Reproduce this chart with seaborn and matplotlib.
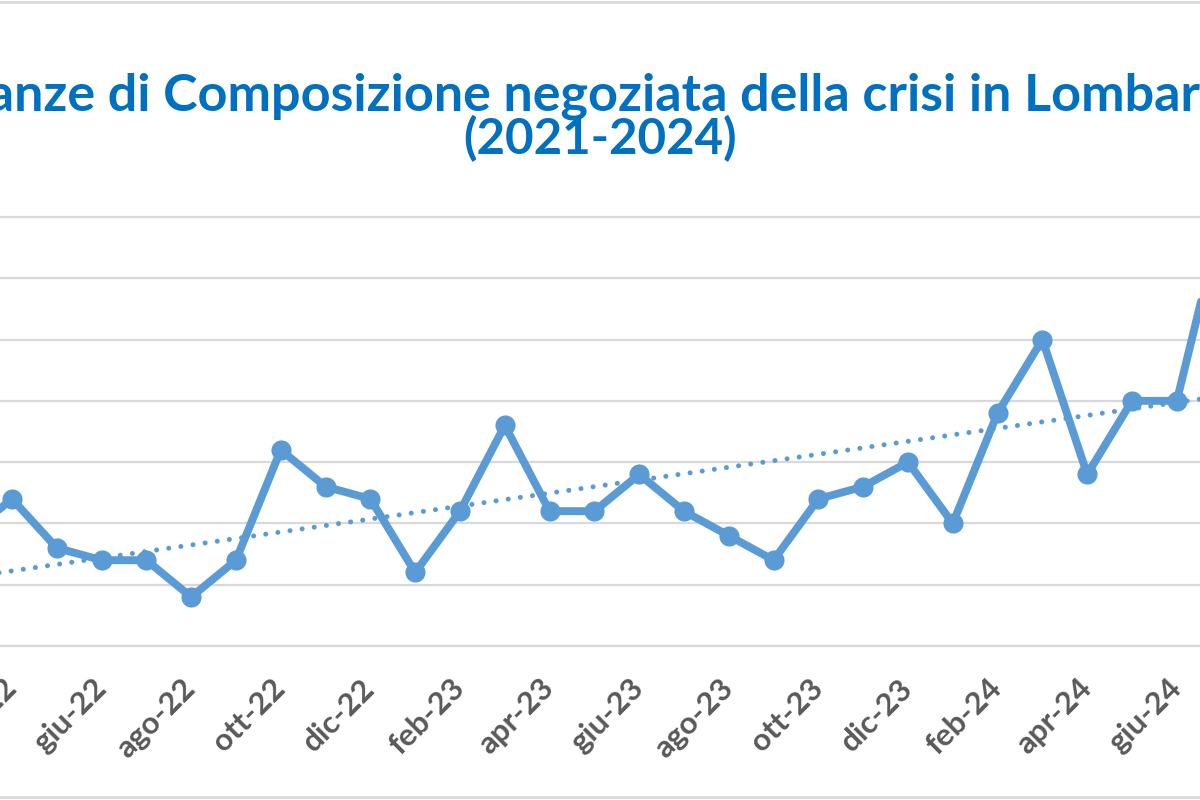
import pandas as pd
import seaborn as sns
import matplotlib.pyplot as plt
from matplotlib.lines import Line2D

# axis categories (monthly); the picture is a crop of a wider chart
months = ["mar-22", "apr-22", "mag-22", "giu-22", "lug-22", "ago-22", "set-22",
          "ott-22", "nov-22", "dic-22", "gen-23", "feb-23", "mar-23", "apr-23",
          "mag-23", "giu-23", "lug-23", "ago-23", "set-23", "ott-23", "nov-23",
          "dic-23", "gen-24", "feb-24", "mar-24", "apr-24", "mag-24", "giu-24",
          "lug-24", "ago-24"]
# number of applications per month (mar-22 .. lug-24)
counts = [9, 12, 8, 7, 7, 4, 7, 16, 13, 12, 6, 11, 18, 11, 11, 14, 11, 9, 7,
          12, 13, 15, 10, 19, 25, 14, 20, 20, 35]
# linear trend read at mar-22 and lug-24
trend_start = 5.6
trend_end = 20.4

BLUE = "#5B9BD5"
GRID = "#D9D9D9"

df = pd.DataFrame({"idx": range(len(counts)), "mese": months[:len(counts)], "istanze": counts})

sns.set_theme(style="white")
plt.rcParams["font.family"] = ["Lato", "DejaVu Sans"]

fig = plt.figure(figsize=(12, 8), dpi=100)

# one month = 44.8 px, one unit = 12.26 px
px_month = 44.8
px_unit = 12.257
y_top = 36
ax = fig.add_axes([0, 154 / 800, 1, y_top * px_unit / 800])

sns.lineplot(data=df, x="idx", y="istanze", ax=ax, color=BLUE, linewidth=5.7,
             marker="o", markersize=14.5, markeredgewidth=0, zorder=3)
ax.plot([0, len(counts) - 1], [trend_start, trend_end], color=BLUE, linewidth=3.6,
        linestyle=(0, (0.01, 2.44)), dash_capstyle="round", zorder=2)

ax.set_yticks(range(0, 36, 5))
ax.tick_params(axis="y", left=False, labelleft=False)
ax.grid(axis="y", color=GRID, linewidth=1.6)
ax.set_axisbelow(True)
for s in ["top", "left", "right"]:
    ax.spines[s].set_visible(False)
ax.spines["bottom"].set_color(GRID)
ax.spines["bottom"].set_linewidth(1.6)

centers = list(range(1, len(months), 2))
ax.set_xticks([c - 0.5 for c in centers])
ax.tick_params(axis="x", which="major", length=8, width=1.6, color=GRID, labelbottom=False)
ax.set_xticks(centers, minor=True)
ax.set_xticklabels([months[c] for c in centers], minor=True, rotation=45, ha="right",
                   va="center", rotation_mode="anchor", fontsize=22.5, fontweight="bold",
                   color="#595959")
ax.tick_params(axis="x", which="minor", length=0, pad=27)
ax.set_xlabel("")
ax.set_ylabel("")

# limits after the ticks, so they are not widened
x0 = 1 - 12 / px_month
ax.set_xlim(x0, x0 + 1200 / px_month)
ax.set_ylim(0, y_top)

fig.text(0.5, 1 - 110 / 800, "Istanze di Composizione negoziata della crisi in Lombardia",
         ha="center", va="baseline", fontsize=37.5, fontweight="bold", color="#0070C0")
fig.text(0.5, 1 - 154 / 800, "(2021-2024)", ha="center", va="baseline",
         fontsize=35.5, fontweight="bold", color="#0070C0")

# chart border (top and bottom edge of the crop)
fig.add_artist(Line2D([0, 1], [0.998, 0.998], transform=fig.transFigure, color=GRID, lw=2))
fig.add_artist(Line2D([0, 1], [0.004, 0.004], transform=fig.transFigure, color=GRID, lw=2))

fig.savefig("out.png", dpi=100)
